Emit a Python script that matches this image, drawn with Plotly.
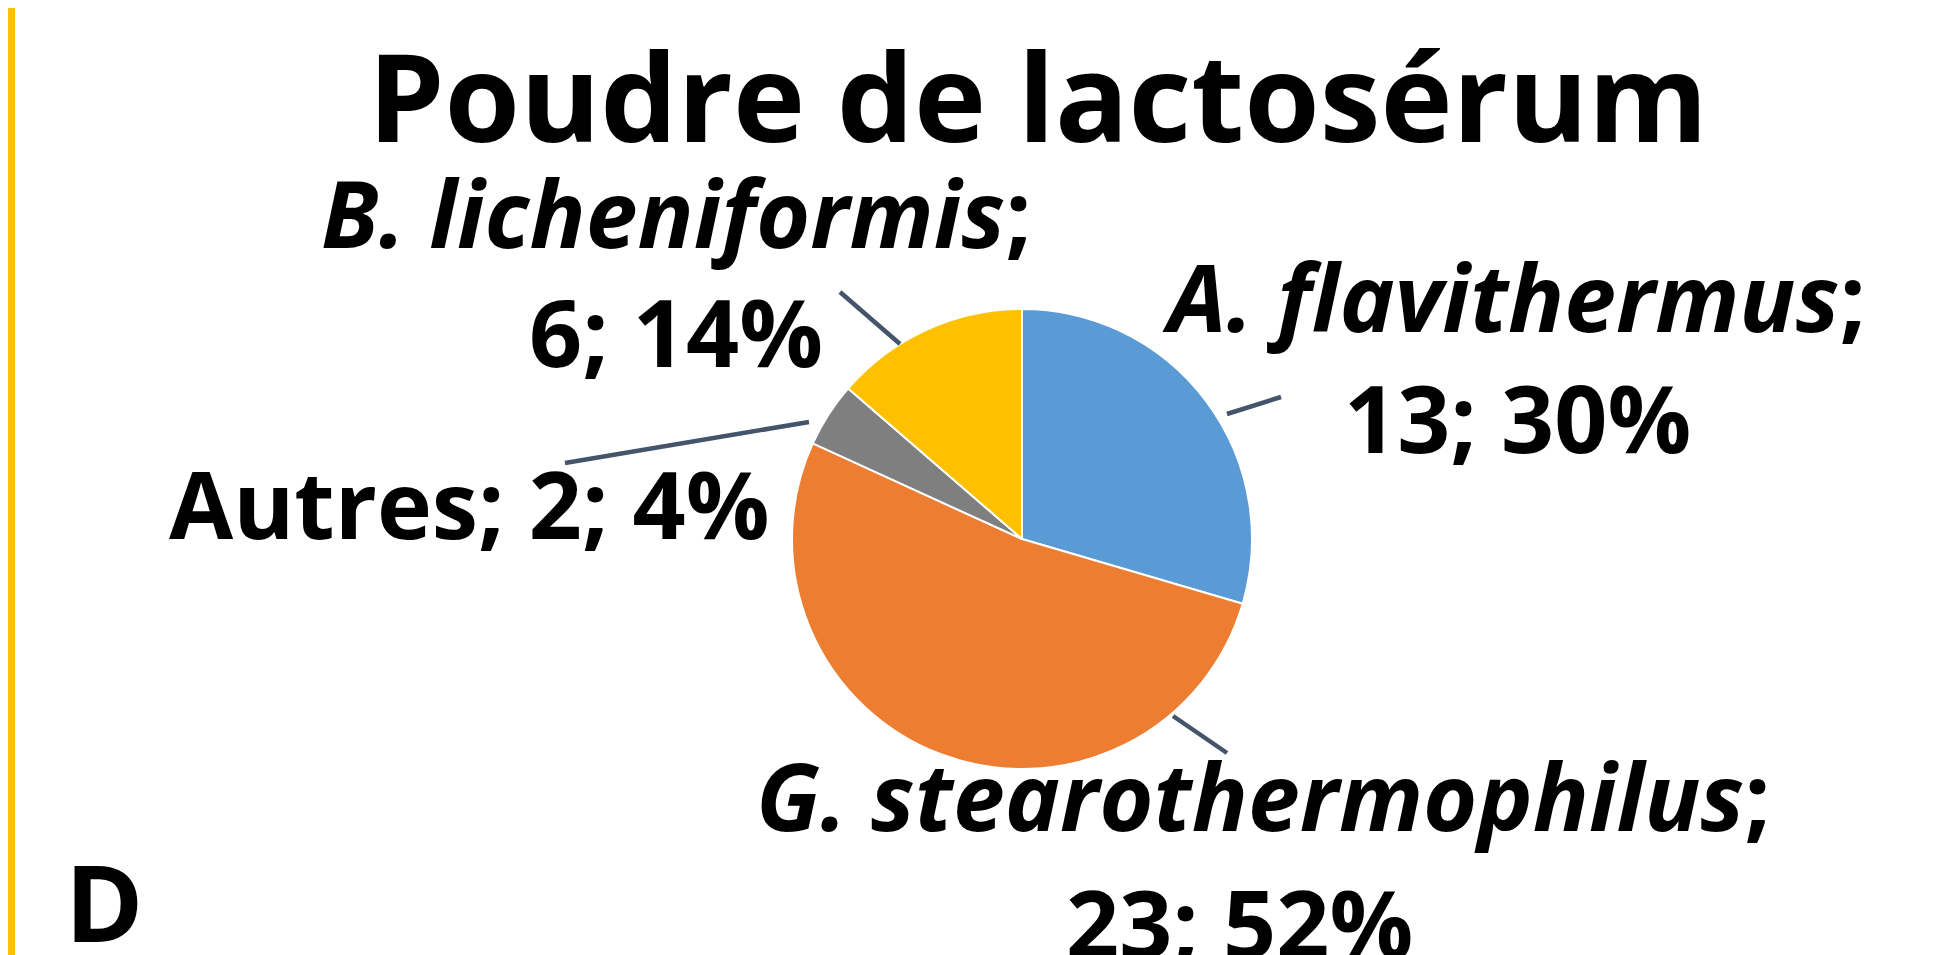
import plotly.graph_objects as go

# ---- data ----
species = ["A. flavithermus", "G. stearothermophilus", "Autres", "B. licheniformis"]
counts = [13, 23, 2, 6]
pct_labels = ["30%", "52%", "4%", "14%"]
italic = [True, True, False, True]
colors = ["#5B9BD5", "#ED7D31", "#7F7F7F", "#FFC000"]
title_text = "Poudre de lactosérum"
panel_letter = "D"

W, H = 1954, 955
FONT = "Open Sans"


def px(x):
    return x / W


def py(y):
    return 1 - y / H


cx, cy, R = 1014, 531, 230

fig = go.Figure()
fig.add_trace(go.Pie(
    labels=species,
    values=counts,
    sort=False,
    direction="clockwise",
    rotation=0,
    marker=dict(colors=colors, line=dict(color="white", width=2)),
    textinfo="none",
    hoverinfo="label+value+percent",
    domain=dict(x=[px(cx - R), px(cx + R)], y=[py(cy + R), py(cy - R)]),
    showlegend=False,
))


def name_html(i):
    n = species[i]
    if italic[i]:
        return f"<b><i>{n}</i>;</b>"
    return f"<b>{n};</b>"


LS = 93  # label font size
OFF = 0.16  # box-middle vs cap-middle offset (fraction of size)
annots = []
# label layout: index -> (line1 centre, line2 centre or None), px, cap-middle
layout_pos = {
    0: ((1506, 303), (1509, 424)),
    1: ((1255, 802), (1231, 929)),
    2: ((461, 510), None),
    3: ((668, 219), (668, 338)),
}
for i, (p1, p2) in layout_pos.items():
    if p2 is None:
        txt = f"{name_html(i)}<b> {counts[i]}; {pct_labels[i]}</b>"
        annots.append(dict(x=px(p1[0]), y=py(p1[1] - OFF * LS), text=txt))
    else:
        annots.append(dict(x=px(p1[0]), y=py(p1[1] - OFF * LS), text=name_html(i)))
        annots.append(dict(x=px(p2[0]), y=py(p2[1] - OFF * LS),
                           text=f"<b>{counts[i]}; {pct_labels[i]}</b>"))

for a in annots:
    a.update(xref="paper", yref="paper", xanchor="center", yanchor="middle",
             showarrow=False, font=dict(family=FONT, size=LS, color="black"))

TS = 122
annots.append(dict(x=px(1030), y=py(107 - OFF * TS), xref="paper", yref="paper",
                   xanchor="center", yanchor="middle", showarrow=False,
                   text=f"<b>{title_text}</b>",
                   font=dict(family=FONT, size=TS, color="black")))
DS = 106
annots.append(dict(x=px(96), y=py(910 - OFF * DS), xref="paper", yref="paper",
                   xanchor="center", yanchor="middle", showarrow=False,
                   text=f"<b>{panel_letter}</b>",
                   font=dict(family=FONT, size=DS, color="black")))

# leader lines (layout positions in px)
leaders = [
    ((1219, 406), (1273, 389)),
    ((1165, 708), (1219, 745)),
    ((801, 414), (557, 455)),
    ((892, 336), (832, 284)),
]
shapes = []
for (x0, y0), (x1, y1) in leaders:
    shapes.append(dict(type="line", xref="paper", yref="paper",
                       x0=px(x0), y0=py(y0), x1=px(x1), y1=py(y1),
                       line=dict(color="#44546A", width=4.5)))
# yellow left border
shapes.append(dict(type="rect", xref="paper", yref="paper",
                   x0=0, x1=px(7), y0=0, y1=1, line=dict(width=0),
                   fillcolor="#FFC000"))

fig.update_layout(
    width=W, height=H,
    margin=dict(l=0, r=0, t=0, b=0),
    paper_bgcolor="white",
    plot_bgcolor="white",
    annotations=annots,
    shapes=shapes,
)

fig.write_html("out.html")
